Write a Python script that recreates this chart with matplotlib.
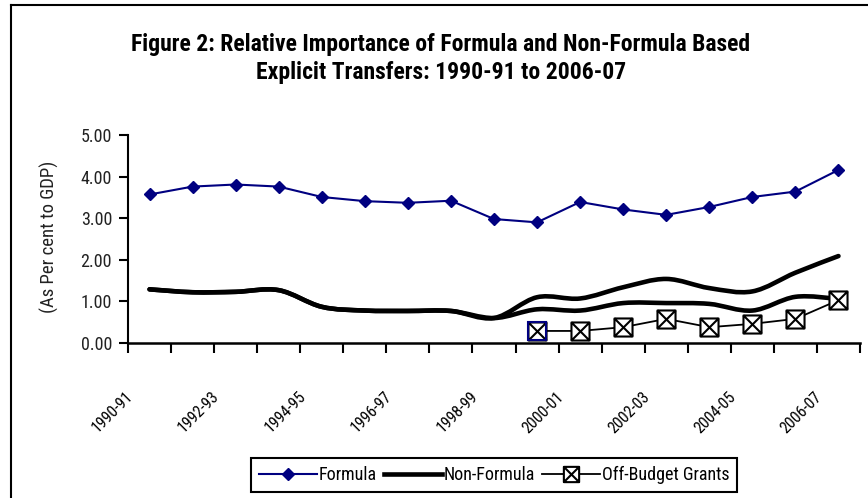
import numpy as np
import matplotlib
matplotlib.use('Agg')
import matplotlib.pyplot as plt
from matplotlib.path import Path
from matplotlib.patches import PathPatch
from matplotlib.lines import Line2D
from matplotlib import font_manager, transforms

# ---------------- data ----------------
categories = ['1990-91', '1991-92', '1992-93', '1993-94', '1994-95', '1995-96',
              '1996-97', '1997-98', '1998-99', '1999-00', '2000-01', '2001-02',
              '2002-03', '2003-04', '2004-05', '2005-06', '2006-07']
formula = [3.57, 3.76, 3.81, 3.76, 3.51, 3.41, 3.37, 3.42, 2.98, 2.90,
           3.39, 3.21, 3.08, 3.27, 3.51, 3.64, 4.16]
non_formula = [1.29, 1.22, 1.23, 1.27, 0.87, 0.78, 0.77, 0.77, 0.60, 0.81,
               0.78, 0.96, 0.96, 0.94, 0.78, 1.11, 1.06]
off_budget = [np.nan] * 9 + [0.29, 0.29, 0.38, 0.58, 0.38, 0.46, 0.58, 1.03]
yticks = [0, 1, 2, 3, 4, 5]
title_lines = ['Figure 2: Relative Importance of Formula and Non-Formula Based',
               'Explicit Transfers: 1990-91 to 2006-07']
ylabel = '(As Per cent to GDP)'

# ---------------- fonts ----------------
avail = {f.name for f in font_manager.fontManager.ttflist}
font = next((n for n in ['Liberation Sans Narrow', 'Arial Narrow', 'DejaVu Sans Condensed',
                         'Roboto Condensed', 'Liberation Sans'] if n in avail), 'DejaVu Sans')
plt.rcParams['font.family'] = [font, 'DejaVu Sans']

W, H = 868, 498
fig = plt.figure(figsize=(W / 100, H / 100), dpi=100)
ax = fig.add_axes([128 / W, (H - 343) / H, 732 / W, 208 / H])

x = np.arange(len(categories)) + 0.5
nf = np.array(non_formula)
ob = np.array(off_budget)
total_nf = nf + np.nan_to_num(ob)


def smooth_path(xs, ys):
    pts = np.column_stack([xs, ys])
    n = len(pts)
    verts = [pts[0]]
    codes = [Path.MOVETO]
    for i in range(n - 1):
        p0 = pts[i - 1] if i > 0 else pts[i]
        p1 = pts[i]
        p2 = pts[i + 1]
        p3 = pts[i + 2] if i + 2 < n else pts[i + 1]
        c1 = p1 + (p2 - p0) / 6.0
        c2 = p2 - (p3 - p1) / 6.0
        verts += [c1, c2, p2]
        codes += [Path.CURVE4] * 3
    return Path(verts, codes)


navy = '#000080'
# Formula
ax.plot(x, formula, color=navy, lw=1.5, marker='D', ms=5.8, mfc=navy, mec=navy,
        clip_on=False, zorder=4)
# Non-formula (smoothed thick lines)
for yy in (total_nf, nf):
    ax.add_patch(PathPatch(smooth_path(x, yy), fill=False, lw=3.3, edgecolor='black',
                           capstyle='round', joinstyle='round', zorder=3))

# Off-budget grants: boxed X marker
bx_verts = [(-1, -1), (1, -1), (1, 1), (-1, 1), (-1, -1),
            (-1, -1), (1, 1), (-1, 1), (1, -1)]
bx_codes = [Path.MOVETO, Path.LINETO, Path.LINETO, Path.LINETO, Path.CLOSEPOLY,
            Path.MOVETO, Path.LINETO, Path.MOVETO, Path.LINETO]
boxx = Path(bx_verts, bx_codes)
valid = ~np.isnan(ob)
ax.plot(x[valid], ob[valid], color='black', lw=1.3, marker=boxx, ms=13, mfc='white',
        mec='black', mew=1.5, zorder=5, clip_on=False)
first = np.argmax(valid)
ax.plot([x[first]], [ob[first]], ls='none', marker='s', ms=13, mfc='none', mec=navy,
        mew=1.5, zorder=6, clip_on=False)

# axes styling
ax.set_xlim(0, len(categories))
ax.set_ylim(0, 5)
for s in ['top', 'right']:
    ax.spines[s].set_visible(False)
ax.spines['left'].set_linewidth(1.5)
ax.spines['bottom'].set_linewidth(1.8)
ax.set_yticks(yticks)
ax.set_yticklabels(['%.2f' % v for v in yticks], fontsize=13, color='#222222')
ax.tick_params(axis='y', direction='out', length=6.5, width=1.5, pad=5)
ax.set_xticks(np.arange(len(categories) + 1))
ax.set_xticklabels([])
ax.tick_params(axis='x', direction='out', length=7, width=1.5)

offset = transforms.ScaledTranslation(-24 / 100, -46 / 100, fig.dpi_scale_trans)
trans = transforms.blended_transform_factory(ax.transData, ax.transAxes) + offset
for i in range(0, len(categories), 2):
    ax.text(x[i], 0, categories[i], transform=trans, rotation=45, ha='right', va='top',
            rotation_mode='anchor', fontsize=11.5)

fig.text(49 / W, 1 - 237 / H, ylabel, rotation=90, ha='center', va='center',
         fontsize=13.5, color='#222222')
fig.text(441 / W, 1 - 44 / H, title_lines[0], ha='center', va='center',
         fontsize=17, fontweight='bold')
fig.text(441 / W, 1 - 72 / H, title_lines[1], ha='center', va='center',
         fontsize=17, fontweight='bold')

handles = [Line2D([], [], color=navy, lw=1.5, marker='D', ms=5.8, mfc=navy, mec=navy),
           Line2D([], [], color='black', lw=3.3),
           Line2D([], [], color='black', lw=1.3, marker=boxx, ms=11, mfc='white',
                  mec='black', mew=1.5)]
leg = fig.legend(handles, ['Formula', 'Non-Formula', 'Off-Budget Grants'],
                 loc='center', bbox_to_anchor=(494 / W, 1 - 475 / H), ncol=3,
                 frameon=True, fancybox=False, framealpha=1, edgecolor='black',
                 prop={'size': 13}, handlelength=3.2, handletextpad=0.1,
                 columnspacing=0.4, borderpad=0.45)
leg.get_frame().set_linewidth(1.5)

# figure border (top and left edges visible)
fig.add_artist(Line2D([11 / W, 11 / W], [0, 1 - 5 / H], transform=fig.transFigure,
                      color='black', lw=1.5))
fig.add_artist(Line2D([11 / W, 1], [1 - 5 / H, 1 - 5 / H], transform=fig.transFigure,
                      color='black', lw=1.5))

fig.savefig('out.png', dpi=100)
